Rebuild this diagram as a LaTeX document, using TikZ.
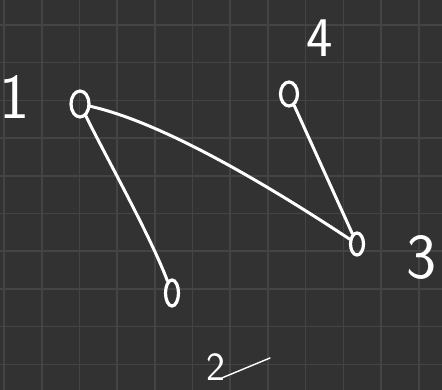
\documentclass[tikz,border=0pt]{standalone}
\usetikzlibrary{shapes.geometric}
\begin{document}
\begin{tikzpicture}[x=1pt,y=-1pt,
  vert/.style={ellipse,draw=white,line width=3.2pt,inner sep=0pt},
  edge/.style={draw=white,line width=3pt,line cap=round},
  lab/.style={text=white,font=\sffamily,inner sep=0pt}]
\useasboundingbox (0,0) rectangle (442,390);
\fill[fill={rgb,255:red,50;green,50;blue,50}] (0,0) rectangle (442,390);
\foreach \i in {0,...,11} {
  \draw[draw={rgb,255:red,68;green,68;blue,68},line width=1.6pt] ({4+37.7*\i},0) -- ({4+37.7*\i},390);
}
\foreach \j in {0,...,9} {
  \draw[draw={rgb,255:red,68;green,68;blue,68},line width=1.6pt] (0,{25+37.7*\j}) -- (442,{25+37.7*\j});
}
\node[vert,minimum width=18pt,minimum height=26pt] (n1) at (80,104) {};
\node[vert,minimum width=17pt,minimum height=24pt] (n4) at (289,94) {};
\node[vert,minimum width=13pt,minimum height=22pt] (n3) at (357,244) {};
\node[vert,minimum width=13pt,minimum height=26pt] (n2) at (172,293) {};
\draw[edge] (n1) .. controls (160,122) and (260,180) .. (n3);
\draw[edge] (n1) .. controls (105,155) and (150,235) .. (n2);
\draw[edge] (n4) -- (n3);
\node[lab,font=\sffamily\fontsize{64}{64}\selectfont] (l1) at (15,97) {1};
\node[lab,font=\sffamily\fontsize{56}{56}\selectfont] (l4) at (320,38) {4};
\node[lab,font=\sffamily\fontsize{64}{64}\selectfont] (l3) at (422,258) {3};
\node[lab,font=\sffamily\fontsize{40}{40}\selectfont] (l2) at (216,367) {2};
\coordinate (t2) at (270,358);
\draw[draw=white,line width=1.4pt,line cap=round] (l2.south east) ++(-3,-3) -- (t2);
\end{tikzpicture}
\end{document}
